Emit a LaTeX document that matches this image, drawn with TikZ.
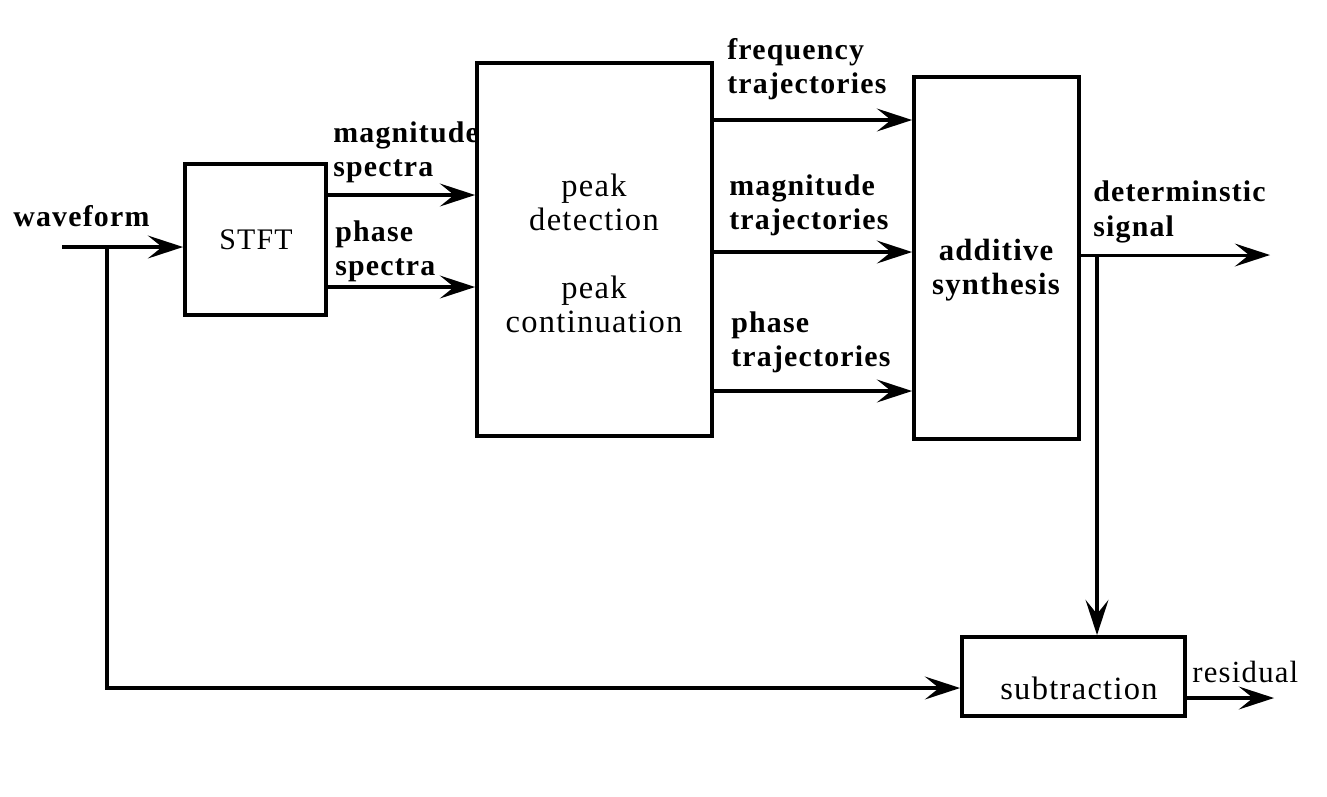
\documentclass[tikz,border=0pt]{standalone}
\usepackage{fontspec}
\setmainfont{Liberation Serif}[LetterSpace=4]
\usetikzlibrary{arrows.meta}
\begin{document}
\begin{tikzpicture}[x=0.02cm,y=-0.02cm,
  box/.style={draw,line width=2.2pt,inner sep=0pt},
  arr/.style={line width=2.2pt,-{Stealth[length=20pt,width=13pt,inset=8pt]}},
  lbl/.style={font=\fontsize{17}{19.5}\selectfont\bfseries,align=left,anchor=west,inner sep=0pt},
  txt/.style={font=\fontsize{18.5}{19.5}\selectfont,align=center,inner sep=0pt}]
\useasboundingbox[fill=white] (0,0) rectangle (1327,796);
% boxes
\node[box,minimum width=2.82cm,minimum height=3.02cm] (stft) at (255.5,239.5) {};
\node[box,minimum width=4.7cm,minimum height=7.46cm] (peak) at (594.5,249.5) {};
\node[box,minimum width=3.3cm,minimum height=7.24cm] (add) at (996.5,258) {};
\node[box,minimum width=4.46cm,minimum height=1.58cm] (sub) at (1073.5,676.5) {};
% box texts
\node[txt,font=\fontsize{17}{19.5}\selectfont] (tstft) at (256,240) {STFT};
\node[txt] (tpd) at (594,202) {peak\\detection};
\node[txt] (tpc) at (594,304) {peak\\continuation};
\node[txt,font=\fontsize{17.5}{19.5}\selectfont\bfseries] (tadd) at (996,270) {additive\\synthesis};
\node[txt] (tsub) at (1079,688) {subtraction};
% labels
\node[lbl] (lwave) at (13,216) {waveform};
\node[lbl] (lms) at (333,152) {magnitude\\spectra};
\node[lbl] (lps) at (335,251) {phase\\spectra};
\node[lbl] (lft) at (727,69) {frequency\\trajectories};
\node[lbl] (lmt) at (729,205) {magnitude\\trajectories};
\node[lbl] (lpt) at (731,342) {phase\\trajectories};
\node[lbl] (lds) at (1093,212) {determinstic\\signal};
\node[lbl,font=\fontsize{17.5}{19.5}\selectfont] (lres) at (1192,672) {residual};
% coordinates
\coordinate (win) at (62,247);
\coordinate (split) at (107,247);
\coordinate (bot) at (107,688);
\coordinate (ms) at (0,195);
\coordinate (ps) at (0,287);
\coordinate (ft) at (0,120);
\coordinate (mt) at (0,252);
\coordinate (pt) at (0,391);
\coordinate (ds) at (1079,255);
\coordinate (dsend) at (1270,255);
\coordinate (tap) at (1097,255);
\coordinate (res) at (0,698);
\coordinate (resend) at (1274,698);
% connectors
\draw[arr] (win) -- (stft.west |- win);
\draw[arr] (split) -- (bot) -- (sub.west |- bot);
\draw[arr] (stft.east |- ms) -- (peak.west |- ms);
\draw[arr] (stft.east |- ps) -- (peak.west |- ps);
\draw[arr] (peak.east |- ft) -- (add.west |- ft);
\draw[arr] (peak.east |- mt) -- (add.west |- mt);
\draw[arr] (peak.east |- pt) -- (add.west |- pt);
\draw[arr,line width=1.7pt] (add.east |- ds) -- (dsend);
\draw[arr] (tap) -- (tap |- sub.north);
\draw[arr,line width=1.8pt] (sub.east |- res) -- (resend);
\end{tikzpicture}
\end{document}
